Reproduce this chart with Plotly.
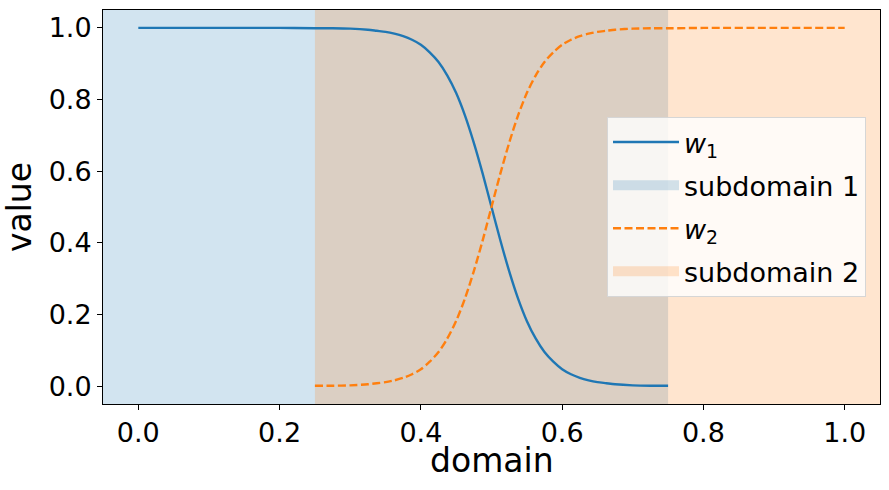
"""
Pesos de partición de unidad en dos subdominios solapados.
"""

import plotly.graph_objects as go

AZUL = "#1f77b4"
NARANJA = "#ff7f0e"
AZUL_SOMBRA = "rgba(31,119,180,0.2)"
NARANJA_SOMBRA = "rgba(255,127,14,0.2)"
FUENTE = "DejaVu Sans, sans-serif"

X_RANGO = [-0.05, 1.05]
Y_RANGO = [-0.05, 1.05]
TICKS = [0.0, 0.2, 0.4, 0.6, 0.8, 1.0]

# w1 en el subdominio 1
X_W1 = [0.0, 0.1, 0.2, 0.25, 0.275, 0.3, 0.325, 0.3375, 0.35, 0.3625, 0.375,
        0.3875, 0.4, 0.4125, 0.425, 0.4375, 0.45, 0.4625, 0.475, 0.4875, 0.5,
        0.5125, 0.525, 0.5375, 0.55, 0.5625, 0.575, 0.5875, 0.6, 0.6125, 0.625,
        0.6375, 0.65, 0.6625, 0.675, 0.7, 0.725, 0.75]
Y_W1 = [1.0, 1.0, 1.0, 0.999, 0.999, 0.998, 0.995, 0.992, 0.989, 0.984, 0.977,
        0.967, 0.953, 0.932, 0.905, 0.867, 0.818, 0.755, 0.679, 0.593, 0.5,
        0.407, 0.321, 0.245, 0.182, 0.133, 0.095, 0.068, 0.047, 0.033, 0.023,
        0.016, 0.011, 0.008, 0.005, 0.002, 0.001, 0.001]

# w2 en el subdominio 2
X_W2 = [0.25, 0.275, 0.3, 0.325, 0.3375, 0.35, 0.3625, 0.375, 0.3875, 0.4,
        0.4125, 0.425, 0.4375, 0.45, 0.4625, 0.475, 0.4875, 0.5, 0.5125, 0.525,
        0.5375, 0.55, 0.5625, 0.575, 0.5875, 0.6, 0.6125, 0.625, 0.6375, 0.65,
        0.6625, 0.675, 0.7, 0.725, 0.75, 0.8, 0.9, 1.0]
Y_W2 = [0.001, 0.001, 0.002, 0.005, 0.008, 0.011, 0.016, 0.023, 0.033, 0.047,
        0.068, 0.095, 0.133, 0.182, 0.245, 0.321, 0.407, 0.5, 0.593, 0.679,
        0.755, 0.818, 0.867, 0.905, 0.932, 0.953, 0.967, 0.977, 0.984, 0.989,
        0.992, 0.995, 0.998, 0.999, 0.999, 1.0, 1.0, 1.0]

SUBDOMINIO_1 = [X_RANGO[0], 0.75]
SUBDOMINIO_2 = [0.25, X_RANGO[1]]


def _banda(fig, limites, color, nombre, rango):
    x0, x1 = limites
    y0, y1 = Y_RANGO
    # relleno real, sin entrada de leyenda
    fig.add_trace(go.Scatter(
        x=[x0, x1, x1, x0, x0], y=[y0, y0, y1, y1, y0],
        mode="lines", fill="toself", fillcolor=color,
        line=dict(width=0, color=color), showlegend=False, hoverinfo="skip",
    ))
    # entrada de leyenda: trazo grueso vacío
    fig.add_trace(go.Scatter(
        x=[None], y=[None], mode="lines", name=nombre,
        line=dict(width=20, color=color),
        legendrank=rango, legendgroup=nombre,
    ))


fig = go.Figure()

# Regiones sombreadas de cada subdominio (debajo de las curvas)
_banda(fig, SUBDOMINIO_1, AZUL_SOMBRA, "subdomain 1", 2)
_banda(fig, SUBDOMINIO_2, NARANJA_SOMBRA, "subdomain 2", 4)

fig.add_trace(go.Scatter(
    x=X_W1, y=Y_W1, mode="lines", name="<i>w</i><sub>1</sub>",
    line=dict(color=AZUL, width=2.4, shape="spline", smoothing=0.8),
    legendrank=1, legendgroup="w1",
))
fig.add_trace(go.Scatter(
    x=X_W2, y=Y_W2, mode="lines", name="<i>w</i><sub>2</sub>",
    line=dict(color=NARANJA, width=2.4, dash="8px,3.5px", shape="spline", smoothing=0.8),
    legendrank=3, legendgroup="w2",
))

fig.update_layout(
    width=889, height=490,
    paper_bgcolor="white", plot_bgcolor="white",
    font=dict(family=FUENTE, color="black", size=27),
    margin=dict(l=103, r=9, t=10, b=86),
    legend=dict(
        x=0.982, xanchor="right", y=0.5, yanchor="middle",
        bgcolor="rgba(255,255,255,0.8)", bordercolor="#d6d6d6", borderwidth=1,
        font=dict(size=27), tracegroupgap=5, itemwidth=66,
    ),
    annotations=[dict(
        text="domain", xref="paper", yref="paper", x=0.5, y=0,
        xanchor="center", yanchor="middle", yshift=-56, showarrow=False,
        font=dict(size=33),
    )],
)
fig.update_xaxes(
    range=X_RANGO, tickvals=TICKS, tickformat=".1f",
    showgrid=False, zeroline=False, showline=True, linecolor="black", mirror=True,
    ticks="outside", ticklen=5, tickcolor="black", automargin=False,
)
fig.update_yaxes(
    range=Y_RANGO, tickvals=TICKS, tickformat=".1f",
    showgrid=False, zeroline=False, showline=True, linecolor="black", mirror=True,
    ticks="outside", ticklen=5, tickcolor="black", automargin=False,
    title=dict(text="value", font=dict(size=33), standoff=8),
)

fig.write_html(
    "out.html",
    config={"displayModeBar": False},
    post_script="document.body.style.margin = '0';",
)
